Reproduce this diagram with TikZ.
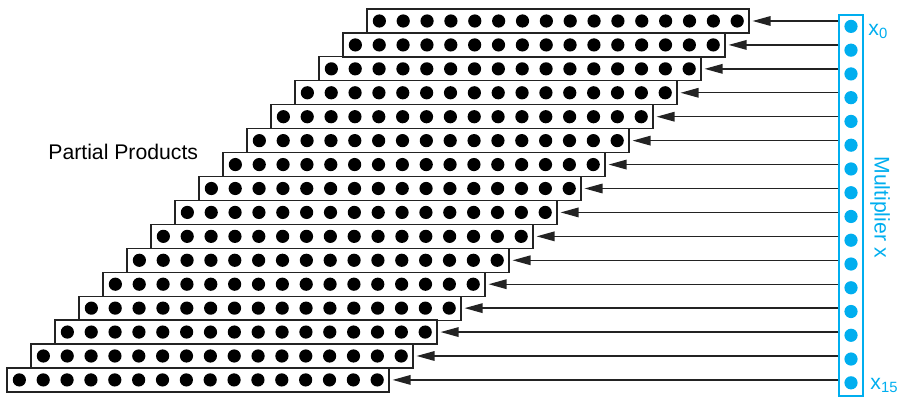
\documentclass[tikz,border=0pt]{standalone}
\usepackage{fontspec}
\setmainfont{Liberation Sans}
\usetikzlibrary{arrows.meta,positioning,calc}
\definecolor{mulcyan}{RGB}{0,174,239}
\definecolor{ppgris}{RGB}{35,35,35}

\begin{document}
\begin{tikzpicture}[x=12pt, y=12pt,
  row/.style={rectangle, draw=ppgris, line width=0.6pt, minimum width=191pt,
    minimum height=12pt, inner sep=0pt},
  pdot/.style={circle, fill=black, minimum size=6.6pt, inner sep=0pt},
  mdot/.style={circle, fill=mulcyan, minimum size=6.6pt, inner sep=0pt},
  mbox/.style={rectangle, draw=mulcyan, line width=0.6pt, minimum width=12pt,
    minimum height=190.5pt, inner sep=0pt},
  tr/.style={-{Triangle[length=9pt,width=4.8pt]}, line width=0.65pt, ppgris, shorten >=1.5pt},
  lbl/.style={font=\fontsize{10.6}{12}\selectfont, inner sep=0pt}
]
  \useasboundingbox (0,0) rectangle (37.375,-16.542);
  % multiplier column
  \node[mbox] (mult) at (35.458,-8.5625) {};
  \foreach \k in {0,...,15}
    \node[mdot] (m\k) at ($(mult.north)+(0,-0.5-0.99*\k)$) {};
  % partial products
  \foreach \i in {0,...,15} {
    \node[row] (pp\i) at (23.25-\i,-0.875-0.997*\i) {};
    \foreach \j in {0,...,15}
      \node[pdot] (d\i-\j) at ($(pp\i.west)+(0.54+0.994*\j,0)$) {};
    \draw[tr] (pp\i.east -| mult.west) -- (pp\i.east);
  }
  % labels
  \node[lbl, anchor=west] (pplbl) at (2,-6.33) {Partial Products};
  \node[lbl, mulcyan, anchor=west] (x0) at (36.17,-1.3) {x\textsubscript{0}};
  \node[lbl, mulcyan, anchor=west] (x15) at (36.25,-16.05) {x\textsubscript{15}};
  \node[lbl, mulcyan, rotate=-90] (mlbl) at (36.67,-8.625) {Multiplier x};
\end{tikzpicture}
\end{document}
